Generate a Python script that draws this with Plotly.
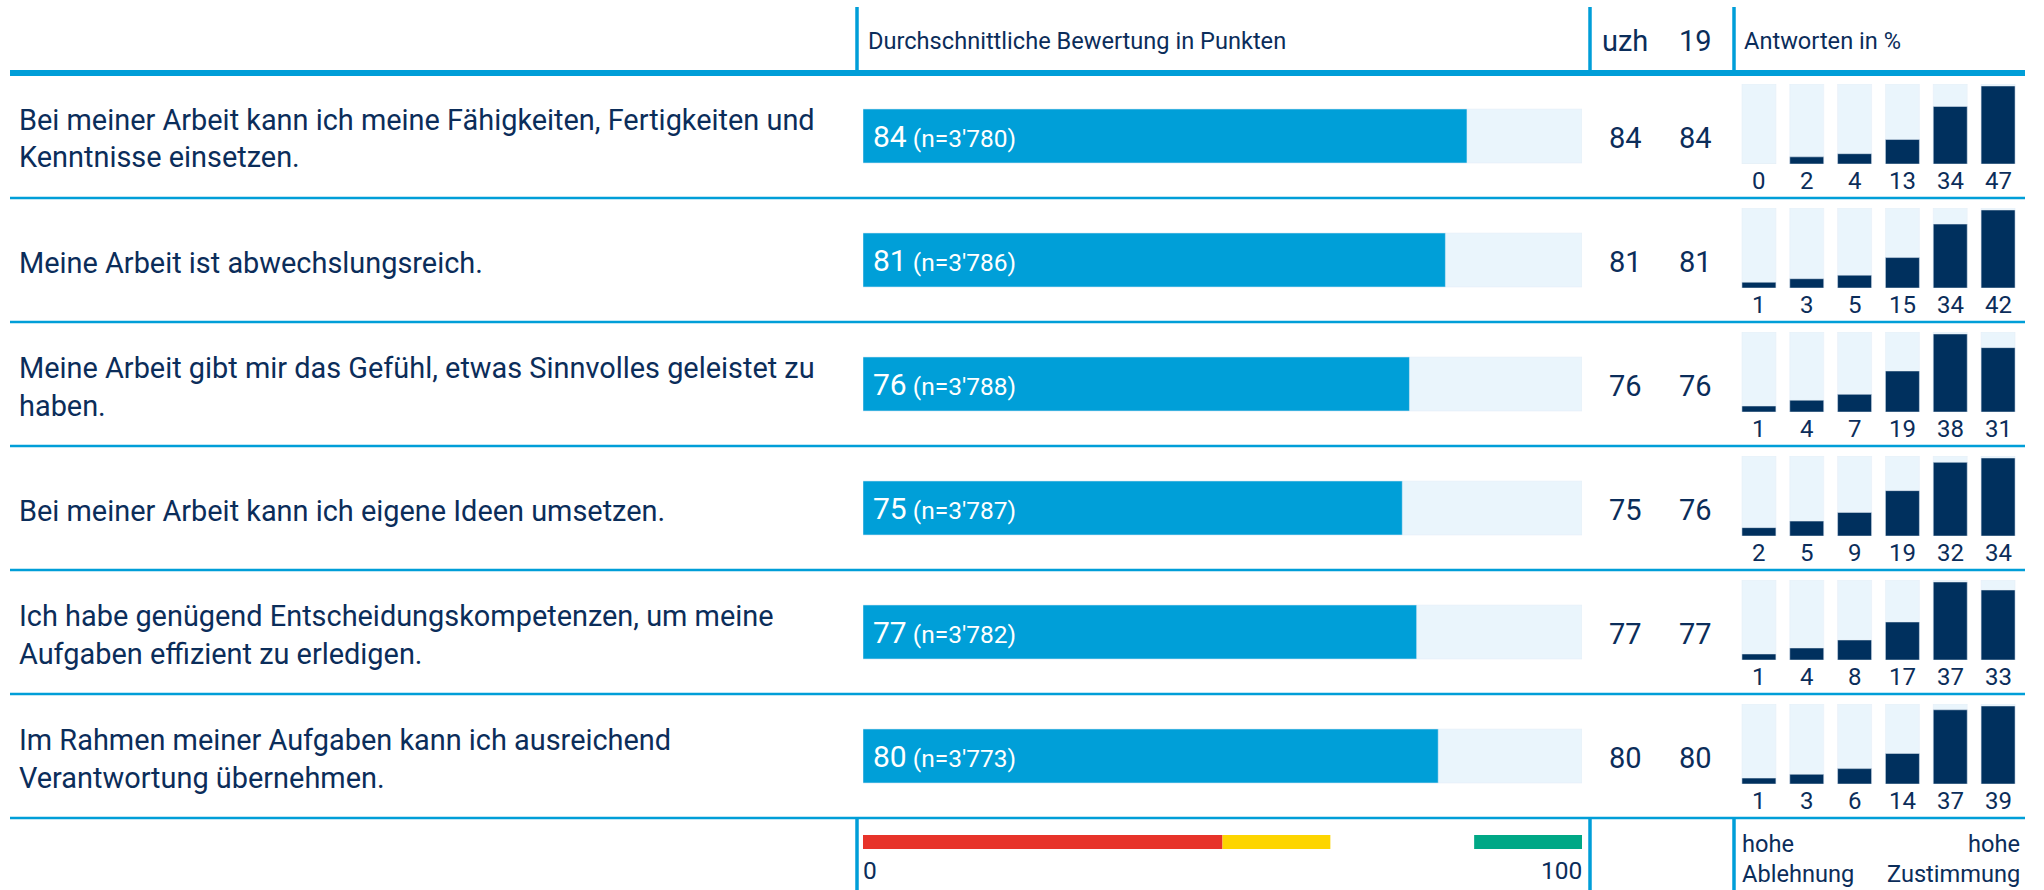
import plotly.graph_objects as go

# ---------------- data ----------------
questions = [
    ["Bei meiner Arbeit kann ich meine Fähigkeiten, Fertigkeiten und", "Kenntnisse einsetzen."],
    ["Meine Arbeit ist abwechslungsreich."],
    ["Meine Arbeit gibt mir das Gefühl, etwas Sinnvolles geleistet zu", "haben."],
    ["Bei meiner Arbeit kann ich eigene Ideen umsetzen."],
    ["Ich habe genügend Entscheidungskompetenzen, um meine", "Aufgaben effizient zu erledigen."],
    ["Im Rahmen meiner Aufgaben kann ich ausreichend", "Verantwortung übernehmen."],
]
scores = [84, 81, 76, 75, 77, 80]
n_counts = ["3'780", "3'786", "3'788", "3'787", "3'782", "3'773"]
uzh_values = [84, 81, 76, 75, 77, 80]
y19_values = [84, 81, 76, 76, 77, 80]
answer_pcts = [
    [0, 2, 4, 13, 34, 47],
    [1, 3, 5, 15, 34, 42],
    [1, 4, 7, 19, 38, 31],
    [2, 5, 9, 19, 32, 34],
    [1, 4, 8, 17, 37, 33],
    [1, 3, 6, 14, 37, 39],
]
answer_cats = [0, 1, 2, 3, 4, 5]
scale_bands = [(0, 50, "#E7332A"), (50, 65, "#FDD500"), (85, 100, "#00A886")]
scale_ticks = ["0", "100"]
header_main = "Durchschnittliche Bewertung in Punkten"
header_uzh = "uzh"
header_19 = "19"
header_ans = "Antworten in %"
foot_left = ["hohe", "Ablehnung"]
foot_right = ["hohe", "Zustimmung"]

# ---------------- style ----------------
W, H = 2044, 890
FONT = "Roboto"
NAVY = "#0B2D5A"
LINE = "#009ED8"
BAR = "#009FD8"
BG = "#EAF5FC"
DARK = "#00305E"
SMALL = 23.6


def px(x):
    return x / W


def py(y):
    return 1 - y / H


row_sep = [74 + 124 * i for i in range(6)]

fig = go.Figure()

# main bars
rows = list(range(len(scores)))
fig.add_trace(go.Bar(orientation="h", x=[100] * len(rows), y=rows, marker_color=BG,
                     width=0.435, hoverinfo="skip", xaxis="x", yaxis="y"))
fig.add_trace(go.Bar(orientation="h", x=scores, y=rows, marker_color=BAR,
                     width=0.435, hoverinfo="skip", xaxis="x", yaxis="y"))

layout = dict(
    width=W, height=H, margin=dict(l=0, r=0, t=0, b=0),
    paper_bgcolor="white", plot_bgcolor="rgba(0,0,0,0)",
    barmode="overlay", showlegend=False,
    font=dict(family=FONT, color=NAVY),
    xaxis=dict(domain=[px(863), px(1582)], range=[0, 100], visible=False, fixedrange=True),
    yaxis=dict(domain=[py(818), py(74)], range=[5.5, -0.5], visible=False, fixedrange=True),
)

annotations = []
shapes = []

# mini bar charts
for i, vals in enumerate(answer_pcts):
    k = i + 2
    m = max(vals)
    r0 = -0.054 * m
    r1 = 1.027 * m
    xa = f"x{k}"
    ya = f"y{k}"
    fig.add_trace(go.Bar(x=answer_cats, y=[r1 - r0] * 6, base=r0, marker_color=BG,
                         width=0.71, hoverinfo="skip", xaxis=xa, yaxis=ya))
    fig.add_trace(go.Bar(x=answer_cats, y=[(v - r0) if v > 0 else 0 for v in vals], base=r0,
                         marker_color=DARK, width=0.71, hoverinfo="skip", xaxis=xa, yaxis=ya))
    s = row_sep[i]
    layout[f"xaxis{k}"] = dict(domain=[px(1735), px(2022)], range=[-0.5, 5.5], visible=False,
                               fixedrange=True, anchor=ya)
    layout[f"yaxis{k}"] = dict(domain=[py(s + 90), py(s + 10)], range=[r0, r1], visible=False,
                               fixedrange=True, anchor=xa)
    for j, v in enumerate(vals):
        annotations.append(dict(x=answer_cats[j], xref=xa, y=py(s + 107), yref="paper",
                                text=str(v), showarrow=False, xanchor="center", yanchor="middle",
                                font=dict(size=24, color=NAVY, family=FONT)))

    # question labels
    lines = questions[i]
    cy = s + 64.5
    nl = len(lines)
    for li, t in enumerate(lines):
        yy = cy + (li - (nl - 1) / 2) * 38
        annotations.append(dict(x=px(17), xref="paper", y=py(yy), yref="paper", text=t,
                                showarrow=False, xanchor="left", yanchor="middle",
                                font=dict(size=28.9, color=NAVY, family=FONT)))
    # bar text
    annotations.append(dict(x=0, xref="x", y=i, yref="y", xshift=8,
                            text=f"<span style='font-size:30px'>{scores[i]}</span> "
                                 f"<span style='font-size:24.5px'>(n={n_counts[i]})</span>",
                            showarrow=False, xanchor="left", yanchor="middle",
                            font=dict(size=24.5, color="white", family=FONT)))
    # uzh / 19 values
    annotations.append(dict(x=px(1625), xref="paper", y=py(s + 64), yref="paper",
                            text=str(uzh_values[i]), showarrow=False, xanchor="center",
                            yanchor="middle", font=dict(size=29, color=NAVY, family=FONT)))
    annotations.append(dict(x=px(1695), xref="paper", y=py(s + 64), yref="paper",
                            text=str(y19_values[i]), showarrow=False, xanchor="center",
                            yanchor="middle", font=dict(size=29, color=NAVY, family=FONT)))

# headers
annotations.append(dict(x=px(866), xref="paper", y=py(41), yref="paper", text=header_main,
                        showarrow=False, xanchor="left", yanchor="middle",
                        font=dict(size=SMALL, color=NAVY, family=FONT)))
annotations.append(dict(x=px(1625), xref="paper", y=py(41), yref="paper", text=header_uzh,
                        showarrow=False, xanchor="center", yanchor="middle",
                        font=dict(size=29, color=NAVY, family=FONT)))
annotations.append(dict(x=px(1695), xref="paper", y=py(41), yref="paper", text=header_19,
                        showarrow=False, xanchor="center", yanchor="middle",
                        font=dict(size=29, color=NAVY, family=FONT)))
annotations.append(dict(x=px(1742), xref="paper", y=py(41), yref="paper", text=header_ans,
                        showarrow=False, xanchor="left", yanchor="middle",
                        font=dict(size=SMALL, color=NAVY, family=FONT)))

# scale bands
for a, b, c in scale_bands:
    shapes.append(dict(type="rect", xref="x", x0=a, x1=b, yref="paper", y0=py(849), y1=py(835),
                       fillcolor=c, line=dict(width=0), layer="above"))
annotations.append(dict(x=0, xref="x", y=py(870), yref="paper", text=scale_ticks[0],
                        showarrow=False, xanchor="left", yanchor="middle", xshift=-2,
                        font=dict(size=24.5, color=NAVY, family=FONT)))
annotations.append(dict(x=100, xref="x", y=py(870), yref="paper", text=scale_ticks[1],
                        showarrow=False, xanchor="right", yanchor="middle", xshift=2,
                        font=dict(size=24.5, color=NAVY, family=FONT)))

# footer answer labels
for li, (tl, tr) in enumerate(zip(foot_left, foot_right)):
    yy = 844 + li * 30
    annotations.append(dict(x=px(1740), xref="paper", y=py(yy), yref="paper", text=tl,
                            showarrow=False, xanchor="left", yanchor="middle",
                            font=dict(size=SMALL, color=NAVY, family=FONT)))
    annotations.append(dict(x=px(2022), xref="paper", y=py(yy), yref="paper", text=tr,
                            showarrow=False, xanchor="right", yanchor="middle",
                            font=dict(size=SMALL, color=NAVY, family=FONT)))

# lines
shapes.append(dict(type="line", xref="paper", yref="paper", x0=px(10), x1=px(2025),
                   y0=py(73), y1=py(73), line=dict(color=LINE, width=6)))
for s in row_sep[1:] + [818]:
    shapes.append(dict(type="line", xref="paper", yref="paper", x0=px(10), x1=px(2025),
                       y0=py(s), y1=py(s), line=dict(color=LINE, width=2.5)))
for xv in [857, 1590, 1734]:
    shapes.append(dict(type="line", xref="paper", yref="paper", x0=px(xv), x1=px(xv),
                       y0=py(7), y1=py(73), line=dict(color=LINE, width=3.5)))
    shapes.append(dict(type="line", xref="paper", yref="paper", x0=px(xv), x1=px(xv),
                       y0=py(818), y1=py(890), line=dict(color=LINE, width=3.5)))

layout["annotations"] = annotations
layout["shapes"] = shapes
fig.update_layout(**layout)

fig.write_html("out.html", config={"displayModeBar": False},
               post_script="document.body.style.margin='0';document.body.style.overflow='hidden';")
